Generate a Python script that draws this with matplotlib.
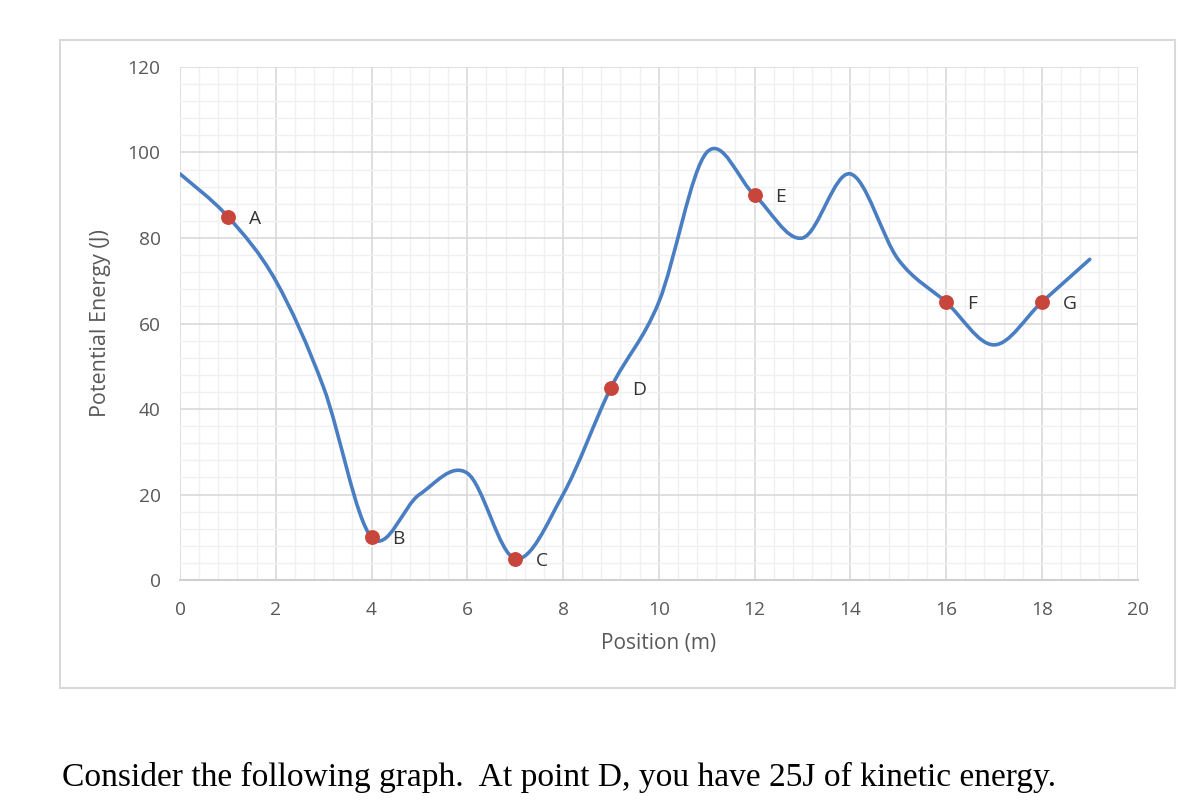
import matplotlib
matplotlib.use("Agg")
import matplotlib.pyplot as plt
from matplotlib.path import Path
from matplotlib.patches import PathPatch, Rectangle
import numpy as np

# ---- data ----
positions = [0, 1, 2, 3, 4, 5, 6, 7, 8, 9, 10, 11, 12, 13, 14, 15, 16, 17, 18, 19]
energy = [95, 85, 70, 45, 10, 20, 25, 5, 20, 45, 65, 100, 90, 80, 95, 75, 65, 55, 65, 75]
point_labels = ["A", "B", "C", "D", "E", "F", "G"]
point_x = [1, 4, 7, 9, 12, 16, 18]
point_y = [85, 10, 5, 45, 90, 65, 65]

x_ticks = list(range(0, 21, 2))
y_ticks = list(range(0, 121, 20))

LINE = "#4A7EC2"
DOT = "#C8453B"
TXT = "#595959"

fig = plt.figure(figsize=(12, 8.11), dpi=100)
fig.patch.set_facecolor("white")

# chart outer border
fig.add_artist(Rectangle((0.05, 0.1517), 0.929, 0.799, transform=fig.transFigure,
                         fill=False, edgecolor="#D9D9D9", linewidth=1.5))

ax = fig.add_axes([0.15, 0.2848, 0.798, 0.6326])
ax.set_xlim(0, 20)
ax.set_ylim(0, 120)

ax.set_xticks(x_ticks)
ax.set_yticks(y_ticks)
ax.set_xticks(np.arange(0, 20.01, 0.4), minor=True)
ax.set_yticks(np.arange(0, 120.01, 4), minor=True)
ax.grid(which="minor", color="#F0F0F0", linewidth=1.0)
ax.grid(which="major", color="#D9D9D9", linewidth=1.2)
ax.set_axisbelow(True)
for s in ["top", "right", "left"]:
    ax.spines[s].set_visible(False)
ax.spines["bottom"].set_color("#D0D0D0")
ax.spines["bottom"].set_linewidth(1.5)
ax.tick_params(which="both", length=0)
ax.tick_params(axis="y", pad=14)
ax.tick_params(axis="x", pad=15)
for lab in ax.get_xticklabels() + ax.get_yticklabels():
    lab.set_fontfamily("Open Sans")
    lab.set_fontsize(13.8)
    lab.set_color(TXT)

ax.set_xlabel("Position (m)", fontfamily="Open Sans", fontsize=15, color=TXT, labelpad=10)
ax.set_ylabel("Potential Energy (J)", fontfamily="Open Sans", fontsize=15.5, color=TXT, labelpad=12)

# smoothed line (Bezier, Excel-like smoothing)
xs = np.array(positions, float)
ys = np.array(energy, float)
n = len(xs)
verts = [(xs[0], ys[0])]
codes = [Path.MOVETO]
for i in range(n - 1):
    p0 = np.array([xs[max(i - 1, 0)], ys[max(i - 1, 0)]])
    p1 = np.array([xs[i], ys[i]])
    p2 = np.array([xs[i + 1], ys[i + 1]])
    p3 = np.array([xs[min(i + 2, n - 1)], ys[min(i + 2, n - 1)]])
    c1 = p1 + (p2 - p0) / 6.0
    c2 = p2 - (p3 - p1) / 6.0
    verts += [tuple(c1), tuple(c2), tuple(p2)]
    codes += [Path.CURVE4] * 3
ax.add_patch(PathPatch(Path(verts, codes), facecolor="none", edgecolor=LINE,
                       linewidth=2.6, capstyle="round", joinstyle="round", zorder=3))

ax.scatter(point_x, point_y, s=115, color=DOT, zorder=4, linewidths=0)
for lab, px, py in zip(point_labels, point_x, point_y):
    ax.annotate(lab, (px, py), xytext=(15, -1.5), textcoords="offset points",
                ha="left", va="center", fontfamily="Open Sans", fontsize=13.8,
                color="#333333", zorder=5)

fig.text(0.052, 0.031, "Consider the following graph.  At point D, you have 25J of kinetic energy.",
         fontfamily="Liberation Serif", fontsize=24.1, color="black", ha="left", va="baseline")

fig.savefig("out.png", dpi=100)
